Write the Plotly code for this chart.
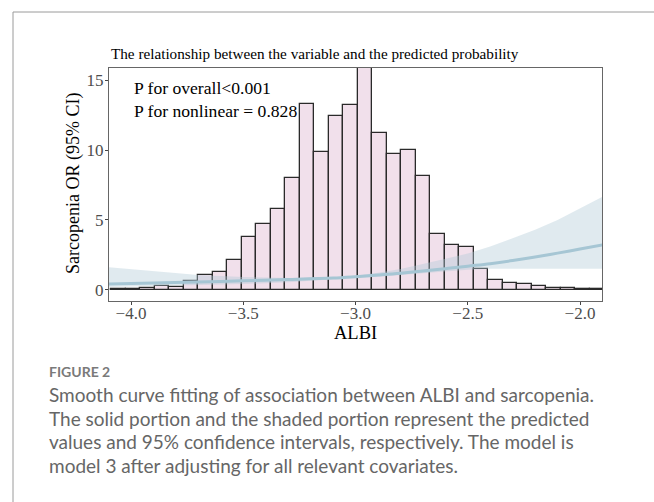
import plotly.graph_objects as go

# ---- data ----
bin_start = -4.089
bin_width = 0.0646
hist_heights = [0.05, 0.07, 0.14, 0.30, 0.21, 0.64, 1.05, 1.27, 2.15, 3.77, 4.72, 5.80,
                8.03, 13.28, 9.84, 12.42, 13.24, 16.5, 11.18, 9.72, 10.0, 8.11, 4.03,
                3.21, 3.07, 1.51, 0.70, 0.50, 0.45, 0.29, 0.17, 0.15, 0.10, 0.07]

curve_x = [-4.1, -3.9, -3.7, -3.5, -3.3, -3.1, -3.0, -2.9, -2.8, -2.7, -2.6, -2.5,
           -2.4, -2.3, -2.2, -2.1, -2.0, -1.9]
curve_or = [0.43, 0.49, 0.57, 0.65, 0.74, 0.85, 0.95, 1.07, 1.20, 1.36, 1.52, 1.70,
            1.88, 2.10, 2.35, 2.63, 2.92, 3.22]
curve_hi = [1.62, 1.35, 1.07, 0.92, 0.86, 0.90, 1.02, 1.22, 1.50, 1.85, 2.20, 2.60,
            3.10, 3.70, 4.30, 5.00, 5.80, 6.65]
curve_lo = [0.21, 0.27, 0.34, 0.42, 0.55, 0.78, 0.88, 0.95, 1.05, 1.18, 1.32, 1.45,
            1.52, 1.52, 1.52, 1.52, 1.52, 1.52]

x_ticks = [-4.0, -3.5, -3.0, -2.5, -2.0]
x_tick_text = ["\u22124.0", "\u22123.5", "\u22123.0", "\u22122.5", "\u22122.0"]
y_ticks = [0, 5, 10, 15]
y_tick_text = ["0", "5", "10", "15"]

title_text = "The relationship between the variable and the predicted probability"
x_title = "ALBI"
y_title = "Sarcopenia OR (95% CI)"
p_text = "P for overall<0.001<br>P for nonlinear = 0.828"
caption_head = "FIGURE 2"
caption_lines = [
    "Smooth curve fitting of association between ALBI and sarcopenia.",
    "The solid portion and the shaded portion represent the predicted",
    "values and 95% confidence intervals, respectively. The model is",
    "model 3 after adjusting for all relevant covariates.",
]

# ---- layout geometry ----
W, H = 654, 502
L, R, T, B = 109, 602, 68, 301

def px(xp):
    return (xp - L) / (R - L)

def py(yp):
    return (B - yp) / (B - T)

serif = "Liberation Serif, Times New Roman, serif"

centers = [bin_start + bin_width * (i + 0.5) for i in range(len(hist_heights))]

fig = go.Figure()
fig.add_trace(go.Bar(
    x=centers, y=hist_heights, width=bin_width,
    marker=dict(color="#F1E0EB", line=dict(color="#2a2a2a", width=1.3)),
    hoverinfo="skip", showlegend=False,
))
fig.add_trace(go.Scatter(
    x=curve_x + curve_x[::-1], y=curve_hi + curve_lo[::-1],
    fill="toself", fillcolor="rgba(178,203,214,0.40)",
    line=dict(width=0), mode="lines", hoverinfo="skip", showlegend=False,
))
fig.add_trace(go.Scatter(
    x=curve_x, y=curve_or, mode="lines", line=dict(color="#A6C6D4", width=3, shape="spline"),
    hoverinfo="skip", showlegend=False,
))

fig.update_layout(
    width=W, height=H,
    margin=dict(l=L, r=W - R, t=T, b=H - B, pad=0),
    paper_bgcolor="white", plot_bgcolor="white",
    bargap=0,
    font=dict(family=serif, color="black", size=16),
)
fig.update_xaxes(
    range=[-4.098, -1.902], tickmode="array", tickvals=x_ticks, ticktext=x_tick_text,
    ticks="outside", ticklen=3, tickcolor="#444", tickwidth=1, ticklabelstandoff=-6,
    tickfont=dict(family=serif, size=17, color="#4D4D4D"),
    showline=True, mirror=True, linecolor="#666", linewidth=1,
    showgrid=False, zeroline=False,
)
fig.update_yaxes(
    range=[-0.79, 15.86], tickmode="array", tickvals=y_ticks, ticktext=y_tick_text,
    ticks="outside", ticklen=3, tickcolor="#444", tickwidth=1, ticklabelstandoff=-2,
    tickfont=dict(family=serif, size=17, color="#4D4D4D"),
    showline=True, mirror=True, linecolor="#666", linewidth=1,
    showgrid=False, zeroline=False,
)

annotations = [
    dict(text=title_text, x=px(109), y=py(54), xref="paper", yref="paper",
         xanchor="left", yanchor="middle", showarrow=False,
         font=dict(family=serif, size=15.2, color="black")),
    dict(text=p_text, x=px(132), y=py(76), xref="paper", yref="paper",
         xanchor="left", yanchor="top", align="left", showarrow=False,
         font=dict(family=serif, size=17.6, color="black")),
    dict(text=x_title, x=px(355.5), y=py(333), xref="paper", yref="paper",
         xanchor="center", yanchor="middle", showarrow=False,
         font=dict(family=serif, size=18.5, color="black")),
    dict(text=y_title, x=px(73), y=py(184), xref="paper", yref="paper",
         xanchor="center", yanchor="middle", showarrow=False, textangle=-90,
         font=dict(family=serif, size=18, color="black")),
    dict(text="<b>" + caption_head + "</b>", x=px(47), y=py(371), xref="paper", yref="paper",
         xanchor="left", yanchor="middle", showarrow=False,
         font=dict(family="Lato", size=14, color="#7a7a7a")),
]
line_y = [394, 418, 441, 465]
for txt, yy in zip(caption_lines, line_y):
    annotations.append(dict(text=txt, x=px(47), y=py(yy), xref="paper", yref="paper",
                            xanchor="left", yanchor="middle", showarrow=False,
                            font=dict(family="Lato", size=19, color="#666666")))
fig.update_layout(annotations=annotations)

fig.add_shape(type="line", xref="paper", yref="paper", x0=px(13), x1=px(654), y0=py(12), y1=py(12),
              line=dict(color="#9a9a9a", width=1))
fig.add_shape(type="line", xref="paper", yref="paper", x0=px(13), x1=px(13), y0=py(12), y1=py(502),
              line=dict(color="#9a9a9a", width=1))

fig.write_html("out.html")
